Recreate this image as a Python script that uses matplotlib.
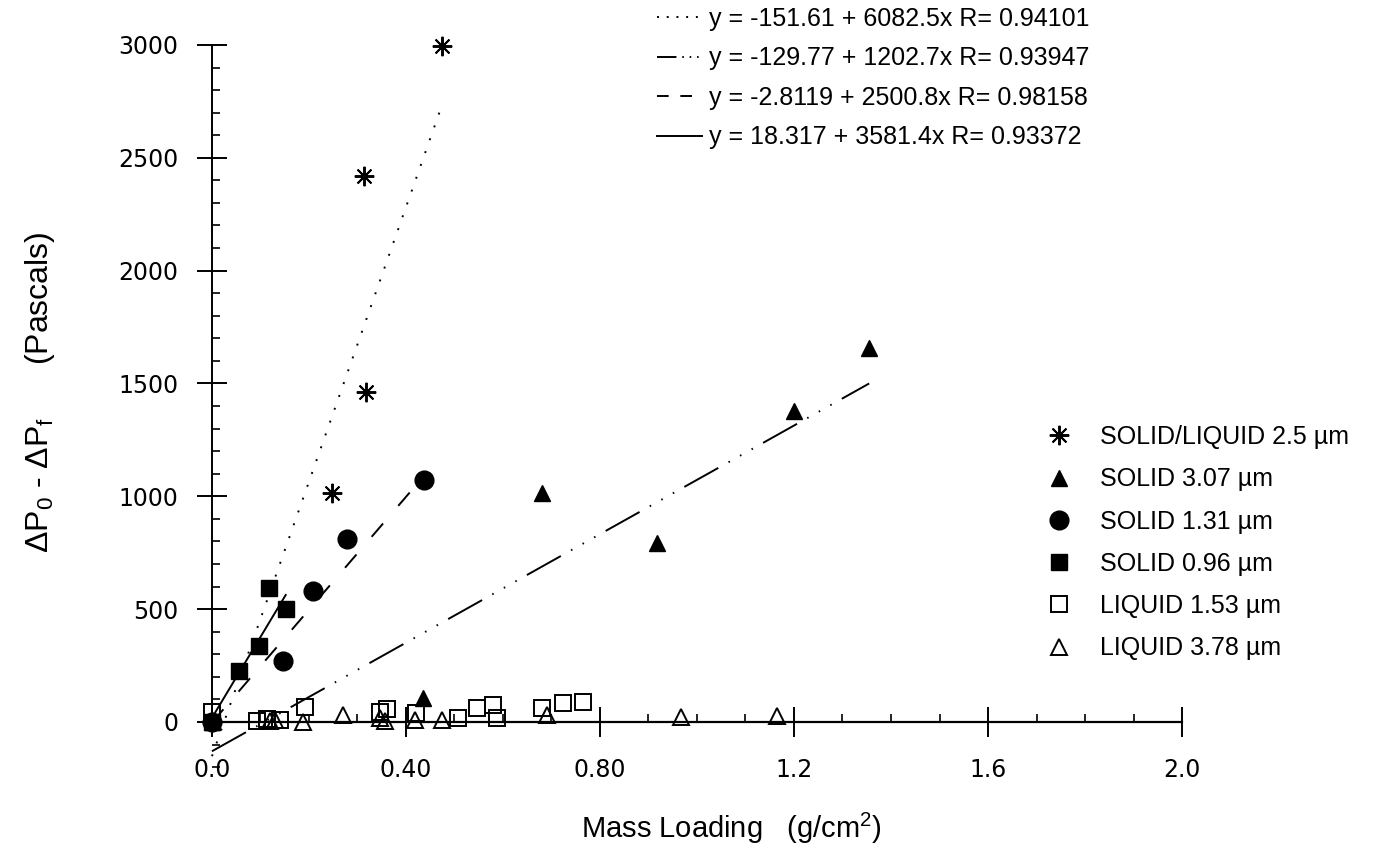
import matplotlib
matplotlib.use('Agg')
import matplotlib.pyplot as plt
from matplotlib.lines import Line2D
from matplotlib.ticker import MultipleLocator, FixedLocator

plt.rcParams['font.family'] = ['Liberation Sans', 'DejaVu Sans']
plt.rcParams['mathtext.fontset'] = 'custom'
plt.rcParams['mathtext.rm'] = 'Liberation Sans'
plt.rcParams['mathtext.it'] = 'Liberation Sans:italic'
plt.rcParams['mathtext.default'] = 'regular'

# data
sl25_x = [0.0, 0.247, 0.313, 0.317, 0.475]
sl25_y = [0, 1013, 2419, 1464, 2995]

s307_x = [0.0, 0.436, 0.680, 0.917, 1.199, 1.355]
s307_y = [0, 105, 1013, 792, 1379, 1656]

s131_x = [0.0, 0.147, 0.209, 0.278, 0.437]
s131_y = [0, 272, 582, 811, 1072]

s096_x = [0.0, 0.056, 0.0975, 0.118, 0.152]
s096_y = [0, 227, 337, 592, 500]

l153_x = [0.0, 0.093, 0.113, 0.140, 0.192, 0.346, 0.360, 0.420, 0.508, 0.546, 0.580, 0.587, 0.680, 0.724, 0.766]
l153_y = [45, 5, 12, 8, 65, 45, 58, 40, 18, 62, 75, 18, 62, 82, 90]

l378_x = [0.120, 0.130, 0.188, 0.271, 0.346, 0.357, 0.419, 0.474, 0.690, 0.968, 1.165]
l378_y = [5, 10, 2, 30, 18, 5, 10, 10, 30, 22, 25]

series_labels = ['SOLID/LIQUID 2.5 µm', 'SOLID 3.07 µm', 'SOLID 1.31 µm',
                 'SOLID 0.96 µm', 'LIQUID 1.53 µm', 'LIQUID 3.78 µm']

# linear fits printed on the chart (dotted, dash-dot-dot, dashed, solid)
fit_a = [-151.61, -129.77, -2.8119, 18.317]
fit_b = [6082.5, 1202.7, 2500.8, 3581.4]
fit_r = [0.94101, 0.93947, 0.98158, 0.93372]
fit_xmax = [max(sl25_x), max(s307_x), max(s131_x), max(s096_x)]
fit_styles = [(0, (1, 6)), (0, (20, 6, 0.8, 6, 0.8, 6, 0.8, 6)), (0, (9, 12)), '-']
# shorter patterns so the legend samples look like the original key
key_styles = [(0, (1, 4)), (0, (10, 3, 0.8, 3, 0.8, 3, 0.8, 3, 4, 50)), (0, (6, 6)), '-']

x_ticks = [0.0, 0.4, 0.8, 1.2, 1.6, 2.0]
x_tick_labels = ['0.0', '0.40', '0.80', '1.2', '1.6', '2.0']

fig = plt.figure(figsize=(13.77, 8.66), dpi=100)
ax = fig.add_axes([0.1328, 0.1142, 0.7256, 0.8339])
ax.set_xlim(-0.06, 2.0)
ax.set_ylim(-200, 3000)

fit_labels = []
for a, b, r, xm, ls in zip(fit_a, fit_b, fit_r, fit_xmax, fit_styles):
    xs = [0.0, xm]
    ys = [a + b * v for v in xs]
    ax.plot(xs, ys, color='black', lw=1.4, linestyle=ls, clip_on=False)
    fit_labels.append(f'y = {a} + {b}x R= {r}')
key_handles = [Line2D([], [], color='black', lw=1.4, linestyle=ls) for ls in key_styles]

mk = dict(ls='none', color='black', clip_on=False, zorder=3)
h1, = ax.plot(sl25_x, sl25_y, marker=(8, 2, 0), ms=14, mew=1.4, **mk)
h2, = ax.plot(s307_x, s307_y, marker='^', ms=12, **mk)
h3, = ax.plot(s131_x, s131_y, marker='o', ms=13.5, **mk)
h4, = ax.plot(s096_x, s096_y, marker='s', ms=11.5, **mk)
h5, = ax.plot(l153_x, l153_y, marker='s', ms=11.5, mfc='none', mew=1.4, **mk)
h6, = ax.plot(l378_x, l378_y, marker='^', ms=11, mfc='none', mew=1.4, **mk)

ax.spines['top'].set_visible(False)
ax.spines['right'].set_visible(False)
ax.spines['left'].set_position(('data', 0))
ax.spines['bottom'].set_position(('data', 0))
ax.spines['left'].set_bounds(0, 3000)
ax.spines['bottom'].set_bounds(0, 2.0)
ax.spines['left'].set_linewidth(1.4)
ax.spines['bottom'].set_linewidth(1.6)

ax.xaxis.set_major_locator(FixedLocator(x_ticks))
ax.set_xticklabels(x_tick_labels)
ax.xaxis.set_minor_locator(MultipleLocator(0.1))
ax.yaxis.set_major_locator(MultipleLocator(500))
ax.yaxis.set_minor_locator(MultipleLocator(100))
ax.tick_params(which='major', direction='inout', length=22, width=1.4,
               labelsize=17, labelfontfamily='DejaVu Sans')
ax.tick_params(axis='x', which='major', pad=15)
ax.tick_params(axis='y', which='major', pad=13)
ax.tick_params(which='minor', direction='in', length=6, width=1.2)

fig.text(40 / 1377, 1 - 392 / 866, r'$\Delta$P$_0$ - $\Delta$P$_f$      (Pascals)',
         rotation=90, ha='center', va='center', fontsize=23)
fig.text(731 / 1377, 1 - 828 / 866, r'Mass Loading   (g/cm$^2$)',
         ha='center', va='center', fontsize=21)

fig.legend(key_handles, fit_labels, loc='upper left',
           bbox_to_anchor=(0.477, 0.992), frameon=False, fontsize=18,
           handlelength=1.8, handletextpad=0.3, labelspacing=0.62,
           borderpad=0, borderaxespad=0)
fig.legend([h1, h2, h3, h4, h5, h6], series_labels, loc='upper left',
           bbox_to_anchor=(0.7553, 0.509), frameon=False, fontsize=18,
           handlelength=1.5, handletextpad=0.9, labelspacing=0.73,
           borderpad=0, borderaxespad=0, numpoints=1)

plt.savefig('out.png', dpi=100)
